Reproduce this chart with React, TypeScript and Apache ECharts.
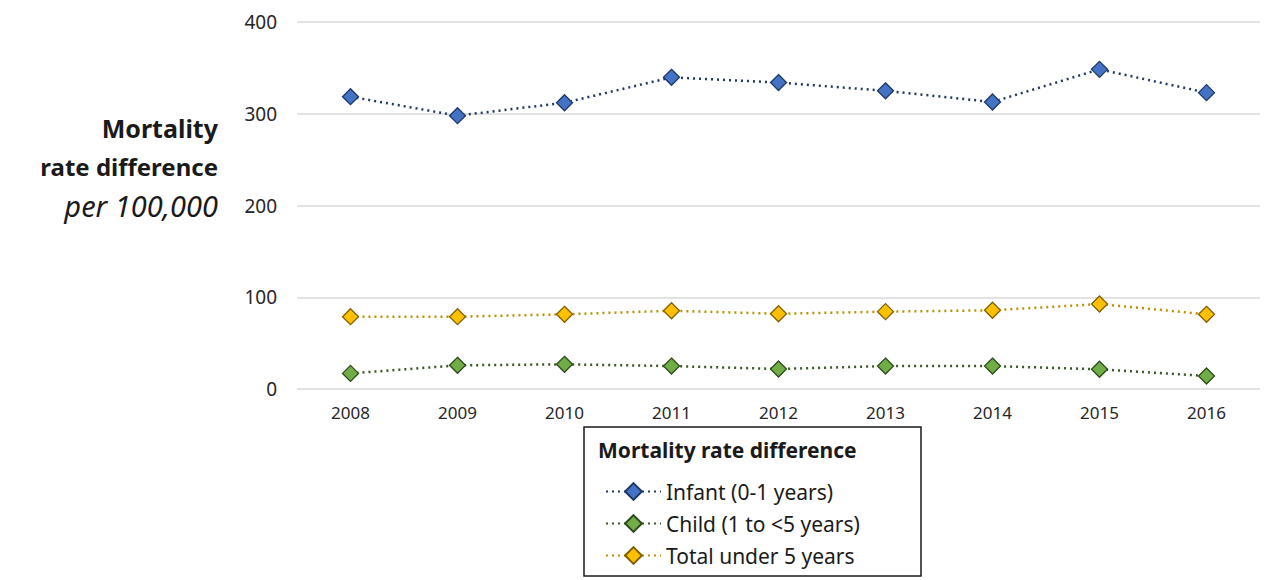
import React, { useEffect, useRef } from "react";
import * as echarts from "echarts";

const years = ["2008", "2009", "2010", "2011", "2012", "2013", "2014", "2015", "2016"];
const infant = [318.6, 297.9, 312, 339.7, 334, 325, 312.8, 348.4, 323];
const child = [17, 25.8, 26.9, 25, 21.8, 25, 25, 21.5, 14.2];
const total = [78.8, 78.8, 81.4, 85.3, 82, 84.3, 85.8, 92.6, 81.4];
const seriesNames = ["Infant (0-1 years)", "Child (1 to <5 years)", "Total under 5 years"];
const yTicks = { min: 0, max: 400, interval: 100 };

const FONT = "'Noto Sans', 'Open Sans', sans-serif";

export default function App() {
  const ref = useRef<HTMLDivElement>(null);
  useEffect(() => {
    if (!ref.current) return;
    const chart = echarts.init(ref.current, null, { renderer: "svg" });
    const mk = (name: string, data: number[], fill: string, border: string, line: string) => ({
      name,
      type: "line",
      data,
      symbol: "diamond",
      symbolSize: 16,
      itemStyle: { color: fill, borderColor: border, borderWidth: 1.3 },
      lineStyle: { color: line, width: 2.5, type: [2, 4] },
      z: 3,
    });
    chart.setOption({
      animation: false,
      textStyle: { fontFamily: FONT },
      grid: { left: 297, right: 20, top: 22, bottom: 191, containLabel: false },
      xAxis: {
        type: "category",
        data: years,
        boundaryGap: true,
        axisLine: { show: false },
        axisTick: { show: false },
        axisLabel: { color: "#262626", fontSize: 17, margin: 15, fontFamily: FONT },
      },
      yAxis: {
        type: "value",
        min: yTicks.min,
        max: yTicks.max,
        interval: yTicks.interval,
        axisLine: { show: false },
        axisTick: { show: false },
        splitLine: { lineStyle: { color: "#d9d9d9", width: 1.5 } },
        axisLabel: { color: "#262626", fontSize: 19, margin: 20, fontFamily: FONT },
      },
      legend: {
        orient: "vertical",
        left: 600,
        top: 476,
        itemWidth: 55,
        itemHeight: 21,
        itemGap: 11,
        data: seriesNames,
        textStyle: { fontSize: 21, color: "#1a1a1a", fontFamily: FONT },
      },
      graphic: [
        {
          type: "rect",
          shape: { x: 584, y: 427, width: 337, height: 149 },
          style: { fill: "none", stroke: "#1a1a1a", lineWidth: 1.5 },
        },
        {
          type: "text",
          x: 598,
          y: 450,
          style: {
            text: "Mortality rate difference",
            font: `bold 21px ${FONT}`,
            fill: "#1a1a1a",
            textVerticalAlign: "middle",
          },
        },
        {
          type: "text",
          x: 218,
          y: 128,
          style: {
            text: "Mortality",
            font: `bold 25px ${FONT}`,
            fill: "#1a1a1a",
            textAlign: "right",
            textVerticalAlign: "middle",
          },
        },
        {
          type: "text",
          x: 218,
          y: 166,
          style: {
            text: "rate difference",
            font: `bold 24px ${FONT}`,
            fill: "#1a1a1a",
            textAlign: "right",
            textVerticalAlign: "middle",
          },
        },
        {
          type: "text",
          x: 218,
          y: 205,
          style: {
            text: "per 100,000",
            font: `italic 29px ${FONT}`,
            fill: "#1a1a1a",
            textAlign: "right",
            textVerticalAlign: "middle",
          },
        },
      ],
      series: [
        mk(seriesNames[0], infant, "#4472C4", "#1F3864", "#203864"),
        mk(seriesNames[1], child, "#70AD47", "#2E4A1C", "#385723"),
        mk(seriesNames[2], total, "#FFC000", "#7F6000", "#BF9000"),
      ],
    });
    return () => chart.dispose();
  }, []);
  return (
    <div
      ref={ref}
      style={{ position: "fixed", left: 0, top: 0, width: 1280, height: 580, background: "#fff" }}
    />
  );
}
